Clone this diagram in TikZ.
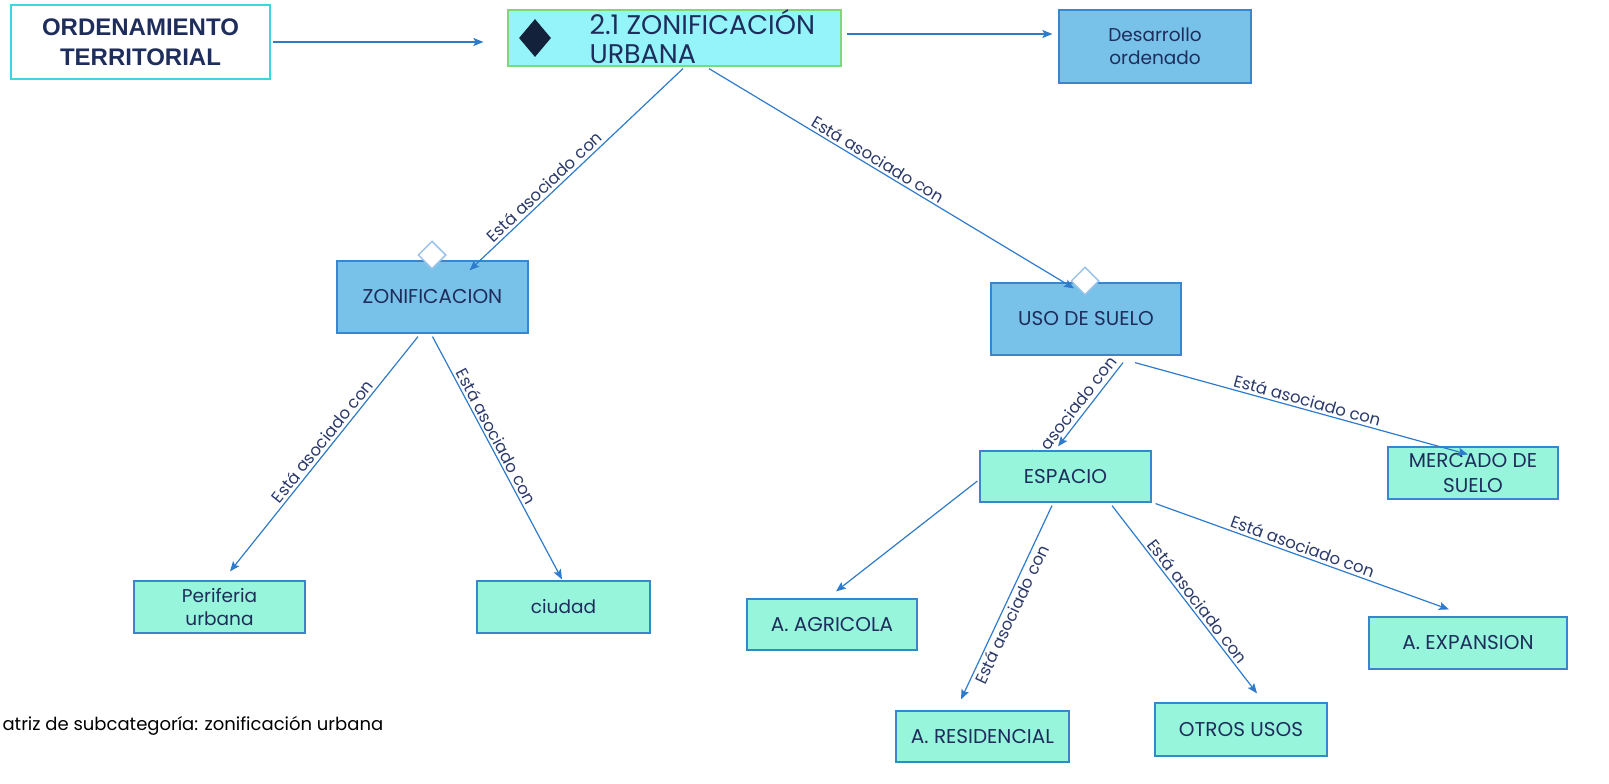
\documentclass[tikz,border=0pt]{standalone}
\usepackage{fontspec}
\setmainfont{Poppins}
\newfontfamily\titlefont{Liberation Sans}
\usepackage{tikz}
\usetikzlibrary{shapes.geometric, arrows.meta, calc, positioning}

\definecolor{linkblue}{HTML}{2F7BCB}
\definecolor{boxtext}{HTML}{1E2D5C}
\definecolor{labtext}{HTML}{2B3A6B}
\definecolor{headfill}{HTML}{95F4F9}
\definecolor{headline}{HTML}{7ED77A}
\definecolor{titleline}{HTML}{3CD5E0}
\definecolor{bluefill}{HTML}{78C1E8}
\definecolor{mintfill}{HTML}{96F5DA}
\definecolor{boxline}{HTML}{3A86CC}
\definecolor{markblack}{HTML}{13223A}
\definecolor{markline}{HTML}{9CC3EC}

\pgfdeclarelayer{back}
\pgfsetlayers{back,main}

\tikzset{
  link/.style={draw=linkblue, line width=1.2pt, -{Stealth[length=10pt,width=8pt,inset=2pt]}},
  rel/.style={sloped, above, inner sep=2.5pt, text=labtext, font=\fontsize{16.5}{18}\selectfont},
  bluebox/.style={draw=boxline, fill=bluefill, line width=1.2pt, align=center, text=boxtext, font=\fontsize{20}{23}\selectfont},
  mintbox/.style={draw=boxline, fill=mintfill, line width=1.2pt, align=center, text=boxtext, font=\fontsize{20}{25}\selectfont},
  small/.style={font=\fontsize{18.5}{23}\selectfont},
  openmark/.style={diamond, draw=markline, fill=white, line width=1.5pt, inner sep=0pt, minimum width=28, minimum height=28},
}

\begin{document}
\begin{tikzpicture}[x=1pt, y=-1pt]
\useasboundingbox (0,0) rectangle (1609,784);

% top row
\node[draw=titleline, line width=1.2pt, minimum width=259, minimum height=74, align=center, text=boxtext,
      font=\titlefont\bfseries\fontsize{24}{30}\selectfont] (ord) at (140.5,42) {ORDENAMIENTO\\TERRITORIAL};
\node[draw=headline, fill=headfill, line width=1.2pt, minimum width=333, minimum height=56] (top) at (674.5,38) {};
\node[diamond, fill=markblack, inner sep=0pt, minimum width=32, minimum height=38] (topmark) at (535,38) {};
\node[anchor=west, align=left, text=boxtext, font=\fontsize{27}{29}\selectfont] (toptext) at (586,37) {2.1 ZONIFICACIÓN\\URBANA};
\node[bluebox, small, minimum width=192, minimum height=73] (des) at (1155,46.5) {Desarrollo\\ordenado};

% second row
\node[bluebox, minimum width=191, minimum height=72] (zon) at (432.5,297) {ZONIFICACION};
\node[bluebox, minimum width=190, minimum height=72] (uso) at (1086,319) {USO DE SUELO};
\node[openmark] (zonmark) at (432,255) {};
\node[openmark] (usomark) at (1085,281) {};

% lower boxes
\node[mintbox, small, minimum width=171, minimum height=52] (per) at (219.5,607) {Periferia\\urbana};
\node[mintbox, small, minimum width=173, minimum height=52] (ciu) at (563.5,607) {ciudad};
\node[mintbox, minimum width=171, minimum height=51] (esp) at (1065.5,476.5) {ESPACIO};
\node[mintbox, minimum width=170, minimum height=52] (mer) at (1473,473) {MERCADO DE\\SUELO};
\node[mintbox, minimum width=170, minimum height=51] (agr) at (832,624.5) {A. AGRICOLA};
\node[mintbox, minimum width=173, minimum height=51] (res) at (982.5,736.5) {A. RESIDENCIAL};
\node[mintbox, minimum width=172, minimum height=53] (otr) at (1241,729.5) {OTROS USOS};
\node[mintbox, minimum width=198, minimum height=52] (exp) at (1468,643) {A. EXPANSION};

\node[anchor=west, font=\fontsize{18}{20}\selectfont] (caption) at (-1,726) {atriz de subcategoría: zonificación urbana};

% connectors
\draw[link, shorten <=2pt, shorten >=24pt] (ord.east) -- (ord.east -| top.west);
\draw[link, shorten <=5pt, shorten >=6pt] ([yshift=4pt]top.east) -- ([yshift=4pt]top.east -| des.west);
\draw[link] ([shift={(8.5,2)}]top.south) -- node[rel, pos=0.62] {Está asociado con} ([shift={(37,10)}]zon.north);
\draw[link] ([shift={(34.5,2)}]top.south) -- node[rel, pos=0.45] {Está asociado con} ([shift={(-12,6)}]uso.north);
\draw[link] ([shift={(-14.5,3)}]zon.south) -- node[rel, pos=0.47] {Está asociado con} ([shift={(10.5,-9)}]per.north);
\draw[link] ([shift={(0,3)}]zon.south) -- node[rel, pos=0.43] {Está asociado con} ([shift={(-1.5,-1)}]ciu.north);
\begin{pgfonlayer}{back}
\draw[link] ([shift={(37,7)}]uso.south) -- node[rel, pos=0.74, inner sep=4pt] {Está asociado con} ([shift={(-7.5,-4)}]esp.north);
\end{pgfonlayer}
\draw[link] ([shift={(49,7)}]uso.south) -- node[rel, pos=0.51] {Está asociado con} ([shift={(-5,8)}]mer.north);
\draw[link] ([shift={(-2,4.5)}]esp.west) -- ([shift={(4,-7)}]agr.north);
\draw[link] ([shift={(-13.5,3)}]esp.south) -- node[rel, below, pos=0.54] {Está asociado con} ([shift={(-21.5,-11)}]res.north);
\draw[link] ([shift={(46.5,3)}]esp.south) -- node[rel, pos=0.54] {Está asociado con} ([shift={(16,-9)}]otr.north);
\draw[link] ([shift={(4,1)}]esp.south east) -- node[rel, pos=0.49] {Está asociado con} ([shift={(-19,-7)}]exp.north);
\end{tikzpicture}
\end{document}
